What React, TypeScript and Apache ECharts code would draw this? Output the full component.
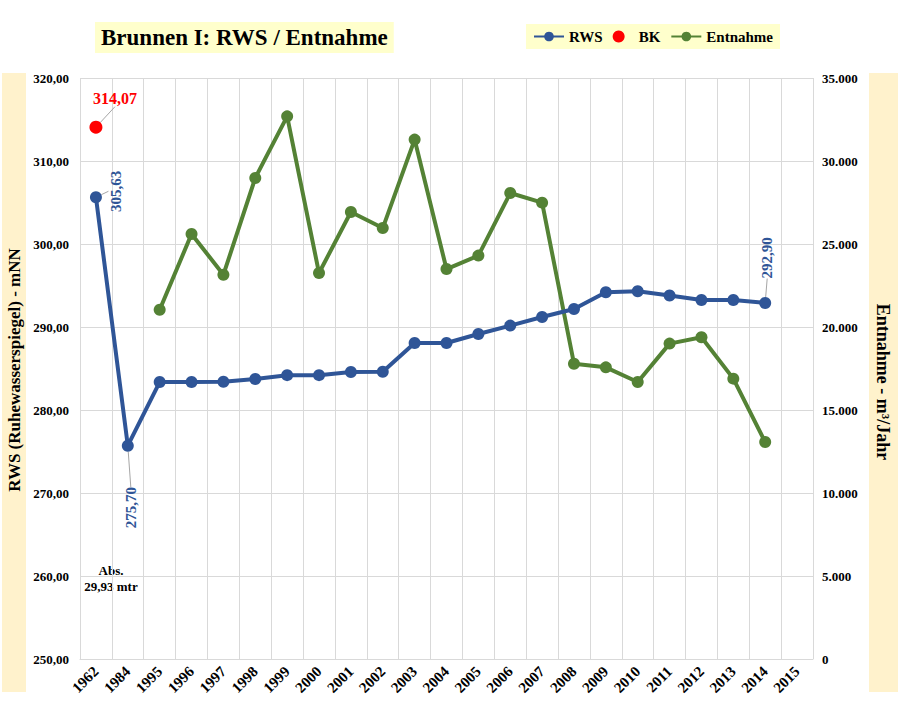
import React, { useEffect, useRef } from "react";
import * as echarts from "echarts";

const years = ["1962", "1984", "1995", "1996", "1997", "1998", "1999", "2000", "2001", "2002", "2003", "2004", "2005", "2006", "2007", "2008", "2009", "2010", "2011", "2012", "2013", "2014", "2015"];
const rwsValues: (number | null)[] = [305.63, 275.7, 283.37, 283.37, 283.4, 283.73, 284.2, 284.2, 284.58, 284.6, 288.07, 288.07, 289.16, 290.17, 291.2, 292.17, 294.18, 294.3, 293.8, 293.25, 293.25, 292.9, null];
const bkValues: (number | null)[] = [314.07, null, null, null, null, null, null, null, null, null, null, null, null, null, null, null, null, null, null, null, null, null, null];
const entnahmeValues: (number | null)[] = [null, null, 21040, 25600, 23150, 28980, 32690, 23250, 26930, 25960, 31290, 23490, 24300, 28070, 27490, 17790, 17570, 16690, 19000, 19380, 16890, 13070, null];
const rwsLabelIndices = [0, 1, 21];
const leftTicks = { min: 250, max: 320, interval: 10 };
const rightTicks = { min: 0, max: 35000, interval: 5000 };

const FONT = "'Liberation Serif', 'Times New Roman', serif";
const BLUE = "#2F5597";
const GREEN = "#548235";
const RED = "#FF0000";

const fmtDec = (v: number) => v.toFixed(2).replace(".", ",");
const fmtThousand = (v: number) => String(Math.round(v)).replace(/\B(?=(\d{3})+(?!\d))/g, ".");

export default function App() {
  const ref = useRef<HTMLDivElement>(null);
  useEffect(() => {
    document.body.style.margin = "0";
    if (!ref.current) return;
    const chart = echarts.init(ref.current, undefined, { renderer: "svg" });
    // label shift in the rotated (90°) label frame: screen (sx, sy) -> (dx, dy) = (-sy, sx)
    const labelShift: Record<number, [number, number]> = { 0: [6, 20], 1: [-62, 3], 21: [45, 2] };
    const option: any = {
      animation: false,
      backgroundColor: "#ffffff",
      textStyle: { fontFamily: FONT },
      title: {
        text: "Brunnen I: RWS / Entnahme",
        left: 95,
        top: 22,
        padding: [4, 6, 4, 6],
        backgroundColor: "#FFFFCC",
        textStyle: { fontFamily: FONT, fontWeight: "bold", fontSize: 23, color: "#000" },
      },
      legend: {
        left: 526,
        top: 24,
        padding: [5, 7, 5, 7],
        backgroundColor: "#FFFFCC",
        itemWidth: 30,
        itemHeight: 12,
        itemGap: 10,
        textStyle: { fontFamily: FONT, fontWeight: "bold", fontSize: 15, color: "#000" },
        data: [{ name: "RWS" }, { name: "BK", icon: "circle" }, { name: "Entnahme" }],
      },
      graphic: [
        { type: "rect", left: 2, top: 73, shape: { width: 24, height: 619 }, style: { fill: "#FFF2CC" }, z: -1 },
        { type: "rect", left: 869, top: 73, shape: { width: 29, height: 619 }, style: { fill: "#FFF2CC" }, z: -1 },
        {
          type: "text",
          x: 14,
          y: 370,
          rotation: Math.PI / 2,
          style: { text: "RWS (Ruhewasserspiegel) - mNN", fontFamily: FONT, fontWeight: "bold", fontSize: 17, fill: "#000", align: "center", verticalAlign: "middle" },
        },
        {
          type: "text",
          x: 883,
          y: 382,
          rotation: -Math.PI / 2,
          style: { text: "Entnahme - m³/Jahr", fontFamily: FONT, fontWeight: "bold", fontSize: 18, fill: "#000", align: "center", verticalAlign: "middle" },
        },
        {
          type: "text",
          x: 111,
          y: 578,
          style: { text: "Abs.\n29,93 mtr", fontFamily: FONT, fontWeight: "bold", fontSize: 13, lineHeight: 16, fill: "#000", align: "center", verticalAlign: "middle" },
        },
      ],
      grid: { left: 80, top: 78, right: 87, bottom: 50, containLabel: false },
      xAxis: {
        type: "category",
        data: years,
        boundaryGap: true,
        axisLine: { show: true, lineStyle: { color: "#D9D9D9" } },
        axisTick: { show: false },
        splitLine: { show: true, interval: 0, lineStyle: { color: "#D9D9D9", width: 1 } },
        axisLabel: { interval: 0, rotate: 45, margin: 10, fontFamily: FONT, fontWeight: "bold", fontSize: 15, color: "#000" },
      },
      yAxis: [
        {
          type: "value",
          min: leftTicks.min,
          max: leftTicks.max,
          interval: leftTicks.interval,
          axisLine: { show: false },
          axisTick: { show: false },
          splitLine: { show: true, lineStyle: { color: "#D9D9D9", width: 1 } },
          axisLabel: { margin: 11, formatter: (v: number) => fmtDec(v), fontFamily: FONT, fontWeight: "bold", fontSize: 13, color: "#000" },
        },
        {
          type: "value",
          min: rightTicks.min,
          max: rightTicks.max,
          interval: rightTicks.interval,
          axisLine: { show: false },
          axisTick: { show: false },
          splitLine: { show: false },
          axisLabel: { margin: 9, formatter: (v: number) => fmtThousand(v), fontFamily: FONT, fontWeight: "bold", fontSize: 13, color: "#000" },
        },
      ],
      series: [
        {
          name: "RWS",
          type: "line",
          yAxisIndex: 0,
          data: rwsValues.map((v, i) => (rwsLabelIndices.includes(i) ? { value: v, label: { show: true } } : v)),
          symbol: "circle",
          symbolSize: 12,
          lineStyle: { color: BLUE, width: 4 },
          itemStyle: { color: BLUE },
          connectNulls: false,
          label: {
            show: false,
            position: "inside",
            rotate: 90,
            formatter: (p: any) => fmtDec(p.value),
            color: BLUE,
            fontFamily: FONT,
            fontWeight: "bold",
            fontSize: 15,
          },
          labelLine: { show: true, lineStyle: { color: "#A6A6A6", width: 1 } },
          labelLayout: (p: any) => {
            const s = labelShift[p.dataIndex];
            return s ? { dx: s[0], dy: s[1] } : {};
          },
          z: 3,
        },
        {
          name: "BK",
          type: "line",
          yAxisIndex: 0,
          data: bkValues,
          symbol: "circle",
          symbolSize: 13,
          lineStyle: { width: 0 },
          itemStyle: { color: RED },
          label: {
            show: true,
            position: "top",
            formatter: (p: any) => (p.value == null ? "" : fmtDec(p.value)),
            color: RED,
            fontFamily: FONT,
            fontWeight: "bold",
            fontSize: 16,
          },
          labelLine: { show: true, lineStyle: { color: "#A6A6A6", width: 1 } },
          labelLayout: { dx: 19, dy: -9 },
          z: 4,
        },
        {
          name: "Entnahme",
          type: "line",
          yAxisIndex: 1,
          data: entnahmeValues,
          symbol: "circle",
          symbolSize: 12,
          lineStyle: { color: GREEN, width: 4 },
          itemStyle: { color: GREEN },
          z: 2,
        },
      ],
    };
    chart.setOption(option);
    return () => chart.dispose();
  }, []);
  return <div ref={ref} style={{ width: 900, height: 709 }} />;
}
